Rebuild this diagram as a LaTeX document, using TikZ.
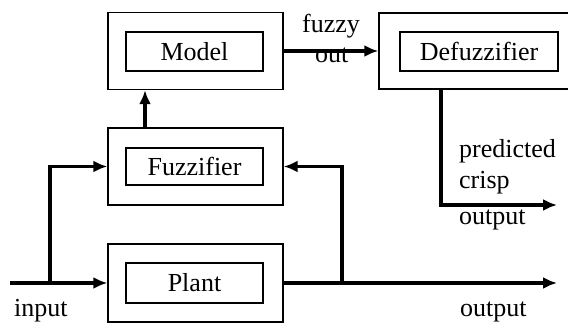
\documentclass[tikz,border=0pt]{standalone}
\usepackage{fontspec}
\setmainfont{Liberation Serif}
\usepackage{tikz}
\usetikzlibrary{arrows.meta,positioning,calc}
\tikzset{
  outerbox/.style={draw,line width=1.3pt,minimum width=175pt,minimum height=77pt,inner sep=0pt},
  innerbox/.style={draw,line width=1.3pt,minimum width=137pt,minimum height=39pt,inner sep=0pt,font=\fontsize{26}{31}\selectfont},
  lbl/.style={anchor=base west,inner sep=0pt,font=\fontsize{26}{31}\selectfont},
  arr/.style={line width=3.5pt,-{Latex[length=14pt,width=12pt]}}
}

\begin{document}
\begin{tikzpicture}[x=1pt,y=1pt]
                \clip (0,0) rectangle (568,326);
                \node[outerbox] (modelo) at (195.5,275) {};
                \node[innerbox] (model) at (194.5,274.5) {Model};
                \node[outerbox] (fuzzo) at (195.5,159.5) {};
                \node[innerbox,minimum height=37pt] (fuzz) at (194.5,159.5) {Fuzzifier};
                \node[outerbox,minimum height=78pt] (planto) at (195.5,43) {};
                \node[innerbox,minimum height=40pt] (plant) at (194.5,43) {Plant};
                \node[outerbox,minimum width=200pt,minimum height=76pt] (defuzzo) at (479,275) {};
                \node[innerbox,minimum width=158pt] (defuzz) at (479,274.5) {Defuzzifier};
                \coordinate (in) at (10,43);
                \coordinate (split) at (50,43);
                \coordinate (fb) at (342,43);
                \coordinate (out) at (557,43);
                \coordinate (crisp) at (557,121);
                \draw[arr] (in) -- (planto.west);
                \draw[arr] (split) |- (fuzzo.west);
                \draw[arr] (planto.east) -- (out);
                \draw[arr] (fb) |- (fuzzo.east);
                \draw[arr] ([xshift=-50.5pt]fuzzo.north) -- ([xshift=-50.5pt]modelo.south);
                \node[lbl] (fuzzy) at (302,293) {fuzzy};
                \node[lbl] (fout) at (315,263) {out};
                \draw[arr] (modelo.east) -- (defuzzo.west);
                \draw[arr] ([xshift=-38pt]defuzzo.south) |- (crisp);
                \node[lbl,align=left] (pred) at (459,137) {predicted\\crisp};
                \node[lbl] (predout) at (459,101) {output};
                \node[lbl] (input) at (14,9) {input};
                \node[lbl] (output) at (460,9) {output};
            \end{tikzpicture}
\end{document}
